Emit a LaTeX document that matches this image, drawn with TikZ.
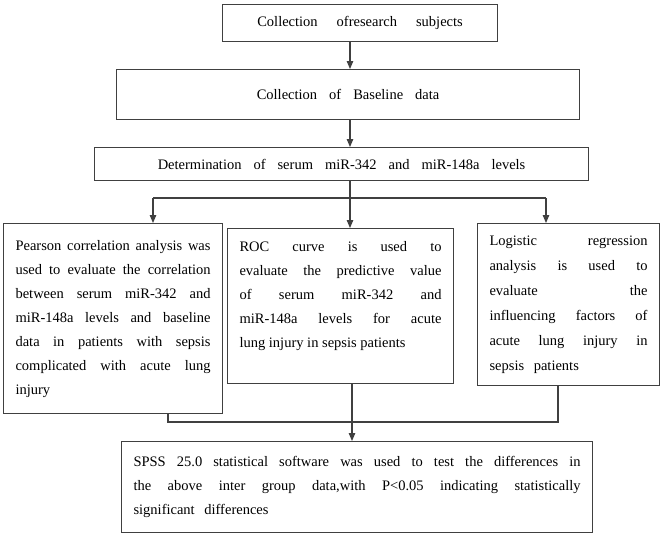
\documentclass[tikz,border=0pt]{standalone}
\usepackage{fontspec}
\setmainfont{Liberation Serif}
\usetikzlibrary{arrows.meta,positioning}

\begin{document}
\begin{tikzpicture}[
    x=1pt, y=-1pt,
    headbox/.style={draw=black!75, line width=1.1pt, inner sep=0pt, anchor=north west,
        font={\fontsize{14.5pt}{24pt}\selectfont\spaceskip=12pt\relax}},
    textbox/.style={draw=black!75, line width=1.1pt, inner xsep=12pt, inner ysep=0pt, anchor=north west,
        align=justify, font={\fontsize{14.5pt}{24pt}\selectfont\tolerance=10000\hyphenpenalty=10000\relax}},
    link/.style={black!75, line width=1.1pt},
    arrow/.style={link, -{Triangle[length=8pt, width=6.5pt]}},
]

\useasboundingbox (0,0) rectangle (662,536);

% Upper chain
\node[headbox, minimum width=275pt, minimum height=37pt,
      font={\fontsize{14.5pt}{24pt}\selectfont\spaceskip=19pt\relax}] (subj) at (222,4) {Collection ofresearch subjects};
\node[headbox, minimum width=463pt, minimum height=50pt] (base) at (116,69) {Collection of Baseline data};
\node[headbox, minimum width=494pt, minimum height=33pt] (meas) at (94,147) {Determination of serum miR-342 and miR-148a levels};

% Three analyses
\node[textbox, text width=195pt, minimum height=190pt] (pear) at (3,223) {Pearson correlation analysis was\linebreak used to evaluate the correlation\linebreak between serum miR-342 and\linebreak miR-148a levels and baseline\linebreak data in patients with sepsis\linebreak complicated with acute lung\linebreak injury};
\node[textbox, text width=202pt, minimum height=155pt] (roc) at (227,228) {ROC curve is used to\linebreak evaluate the predictive value\linebreak of serum miR-342 and\linebreak miR-148a levels for acute\linebreak lung injury in sepsis patients\par\leavevmode};
\node[textbox, text width=158pt, minimum height=162pt,
      font={\fontsize{14.5pt}{25pt}\selectfont\tolerance=10000\hyphenpenalty=10000\relax}] (logi) at (477,223) {Logistic regression\linebreak analysis is used to\linebreak evaluate the\linebreak influencing factors of\linebreak acute lung injury in\linebreak sepsis\hspace{6pt} patients};

% Statistics
\node[textbox, text width=447pt, minimum height=91pt] (spss) at (121,441) {SPSS 25.0 statistical software was used to test the differences in\linebreak the above inter group data,with P<0.05 indicating statistically\linebreak significant\hspace{6pt} differences};

% Spine and forks
\coordinate (spine) at (350,0);
\coordinate (fork) at (350,198);
\coordinate (forkL) at (153,198);
\coordinate (forkR) at (546,198);
\coordinate (joinL) at (168,422);
\coordinate (joinR) at (558,422);
\coordinate (drop) at (352,422);

\draw[arrow] (subj.south -| spine) -- (base.north -| spine);
\draw[arrow] (base.south -| spine) -- (meas.north -| spine);

\draw[link] (meas.south -| fork) -- (fork);
\draw[link] (forkL) -- (forkR);
\draw[arrow] (forkL) -- (forkL |- pear.north);
\draw[arrow] (fork) -- (fork |- roc.north);
\draw[arrow] (forkR) -- (forkR |- logi.north);

\draw[link] (pear.south -| joinL) -- (joinL) -- (joinR) -- (logi.south -| joinR);
\draw[arrow] (roc.south -| drop) -- (spss.north -| drop);

\end{tikzpicture}
\end{document}
